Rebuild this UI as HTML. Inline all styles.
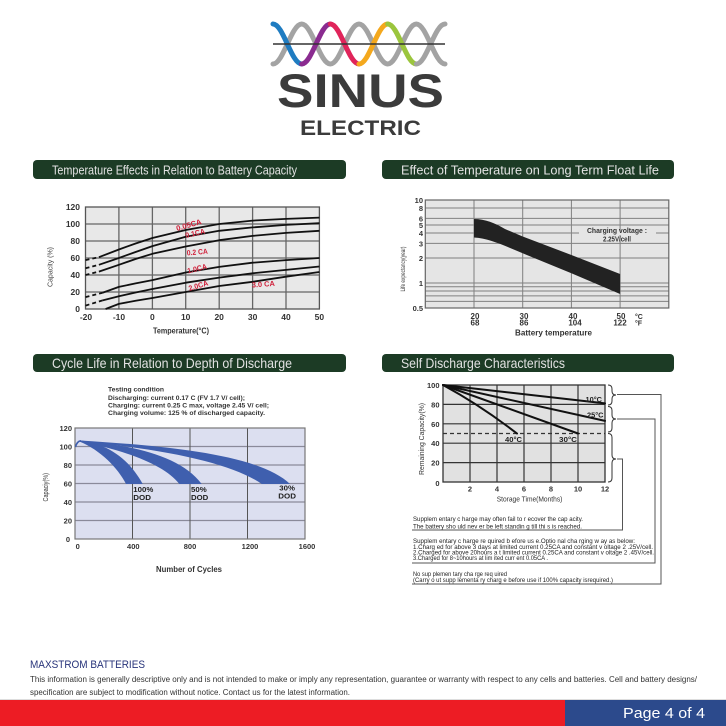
<!DOCTYPE html>
<html><head><meta charset="utf-8">
<style>
html,body{margin:0;padding:0;background:#fff;}
svg{display:block;}
text{font-family:"Liberation Sans",Arial,sans-serif;}
</style></head><body>
<svg width="726" height="726" viewBox="0 0 726 726" xmlns="http://www.w3.org/2000/svg">
<rect width="726" height="726" fill="#fff"/>

<!-- LOGO -->
<g fill="none" stroke-width="5" stroke-linecap="round">
<path d="M273,64 C283.3,64 291.3,24 301.7,24 C312,24 320,64 330.3,64 C340.6,64 348.6,24 359,24 C369.3,24 377.3,64 387.7,64 C398,64 406,24 416.3,24 C426.6,24 434.6,64 445,64" stroke="#a3a3a3"/>
<path d="M273,24 C283.3,24 291.3,64 301.7,64" stroke="#1f7cc1"/>
<path d="M301.7,64 C312,64 320,24 330.3,24" stroke="#8a2b90"/>
<path d="M330.3,24 C340.6,24 348.6,64 359,64" stroke="#e0245a"/>
<path d="M359,64 C369.3,64 377.3,24 387.7,24" stroke="#f4a81d"/>
<path d="M387.7,24 C398,24 406,64 416.3,64" stroke="#9bc53d"/>
<path d="M416.3,64 C426.6,64 434.6,24 445,24" stroke="#a3a3a3"/>
</g>
<line x1="273" y1="44" x2="445" y2="44" stroke="#333" stroke-width="1.5"/>
<text x="277" y="107" font-size="47" font-weight="bold" fill="#3b3b3b" textLength="167" lengthAdjust="spacingAndGlyphs">SINUS</text>
<text x="300" y="135" font-size="21" font-weight="bold" fill="#3b3b3b" textLength="121" lengthAdjust="spacingAndGlyphs">ELECTRIC</text>

<!-- TITLE BARS -->
<rect x="33" y="160" width="313" height="19" rx="4" fill="#1c3b25"/>
<text x="52" y="174.5" font-size="12.5" fill="#e2e2e2" textLength="245" lengthAdjust="spacingAndGlyphs">Temperature Effects in Relation to Battery Capacity</text>
<rect x="382" y="160" width="292" height="19" rx="4" fill="#1c3b25"/>
<text x="401" y="174.5" font-size="13" fill="#e2e2e2" textLength="258" lengthAdjust="spacingAndGlyphs">Effect of Temperature on Long Term Float Life</text>
<rect x="33" y="354" width="313" height="18" rx="4" fill="#1c3b25"/>
<text x="52" y="368" font-size="14" fill="#e2e2e2" textLength="240" lengthAdjust="spacingAndGlyphs">Cycle Life in Relation to Depth of Discharge</text>
<rect x="382" y="354" width="292" height="18" rx="4" fill="#1c3b25"/>
<text x="401" y="368" font-size="14" fill="#e2e2e2" textLength="164" lengthAdjust="spacingAndGlyphs">Self Discharge Characteristics</text>

<!-- CHART 1 -->
<rect x="85.5" y="207" width="233.9" height="102" fill="#e8e8e8"/>
<g stroke="#666" stroke-width="1.3">
<line x1="85.5" y1="224" x2="319.4" y2="224"/>
<line x1="85.5" y1="241" x2="319.4" y2="241"/>
<line x1="85.5" y1="258" x2="319.4" y2="258"/>
<line x1="85.5" y1="275" x2="319.4" y2="275"/>
<line x1="85.5" y1="292" x2="319.4" y2="292"/>
<line x1="118.9" y1="207" x2="118.9" y2="309"/>
<line x1="152.4" y1="207" x2="152.4" y2="309"/>
<line x1="185.7" y1="207" x2="185.7" y2="309"/>
<line x1="219.2" y1="207" x2="219.2" y2="309"/>
<line x1="252.6" y1="207" x2="252.6" y2="309"/>
<line x1="286" y1="207" x2="286" y2="309"/>
</g>
<rect x="85.5" y="207" width="233.9" height="102" fill="none" stroke="#555" stroke-width="1.3"/>
<g fill="none" stroke="#111" stroke-width="1.8" stroke-linejoin="round">
<polyline points="98.9,257.2 118.9,249.5 135.6,243.5 152.4,238 185.7,230 219.2,224 252.6,220.6 286,218.9 319.4,217.6"/>
<polyline points="98.9,264.8 118.9,258 135.6,252 152.4,246.1 185.7,236.8 219.2,230.8 252.6,227.4 286,224.9 319.4,223.2"/>
<polyline points="98.9,271.6 118.9,264.8 135.6,259 152.4,253.8 185.7,246.5 219.2,240.2 252.6,235.9 286,232.9 319.4,230.8"/>
<polyline points="102.2,292.9 118.9,286.9 135.6,283.4 152.4,280.1 185.7,272.5 219.2,266.9 252.6,262.7 286,260.1 319.4,258"/>
<polyline points="102.2,300.5 118.9,296.3 135.6,292.5 152.4,289 185.7,282.7 219.2,277.6 252.6,273.3 286,269.9 319.4,266.5"/>
<polyline points="105.6,309 118.9,303.9 135.6,300.8 152.4,298 185.7,292 219.2,286 252.6,281.8 286,276.7 319.4,272"/>
</g>
<g fill="none" stroke="#111" stroke-width="1.8" stroke-dasharray="4,3">
<line x1="85.5" y1="260.1" x2="98.9" y2="257.2"/>
<line x1="85.5" y1="268.2" x2="98.9" y2="264.8"/>
<line x1="85.5" y1="275" x2="98.9" y2="271.6"/>
<line x1="85.5" y1="297.1" x2="102.2" y2="292.9"/>
<line x1="85.5" y1="305.6" x2="102.2" y2="300.5"/>
</g>
<g font-size="8.5" font-weight="bold" fill="#333" text-anchor="end">
<text x="80" y="210">120</text><text x="80" y="227">100</text><text x="80" y="244">80</text>
<text x="80" y="261">60</text><text x="80" y="278">40</text><text x="80" y="295">20</text><text x="80" y="312">0</text>
</g>
<g font-size="8.5" font-weight="bold" fill="#333" text-anchor="middle">
<text x="86" y="320">-20</text><text x="119" y="320">-10</text><text x="152.4" y="320">0</text>
<text x="185.7" y="320">10</text><text x="219.2" y="320">20</text><text x="252.6" y="320">30</text>
<text x="286" y="320">40</text><text x="319.4" y="320">50</text>
</g>
<text x="153" y="333.5" font-size="8" font-weight="bold" fill="#333" textLength="56" lengthAdjust="spacingAndGlyphs">Temperature(°C)</text>
<text transform="translate(52.5,287) rotate(-90)" font-size="7" fill="#444" textLength="40" lengthAdjust="spacingAndGlyphs">Capacity (%)</text>
<g font-size="7.5" font-weight="bold" fill="#d0203a">
<text transform="translate(177,231) rotate(-16)" textLength="26" lengthAdjust="spacingAndGlyphs">0.05CA</text>
<text transform="translate(186,238) rotate(-13)" textLength="20" lengthAdjust="spacingAndGlyphs">0.1CA</text>
<text transform="translate(187,255.5) rotate(-5)" textLength="21" lengthAdjust="spacingAndGlyphs">0.2 CA</text>
<text transform="translate(188,273.5) rotate(-14)" textLength="20" lengthAdjust="spacingAndGlyphs">1.0CA</text>
<text transform="translate(189.5,291) rotate(-17)" textLength="20" lengthAdjust="spacingAndGlyphs">2.0CA</text>
<text transform="translate(252,287.5) rotate(-4)" textLength="23" lengthAdjust="spacingAndGlyphs">3.0 CA</text>
</g>

<!-- CHART 2 -->
<rect x="425.3" y="200" width="243.5" height="108" fill="#e5e5e5"/>
<g stroke="#808080" stroke-width="1">
<line x1="425.3" y1="208" x2="668.8" y2="208"/>
<line x1="425.3" y1="218.4" x2="668.8" y2="218.4"/>
<line x1="425.3" y1="225" x2="668.8" y2="225"/>
<line x1="425.3" y1="233" x2="668.8" y2="233"/>
<line x1="425.3" y1="243.4" x2="668.8" y2="243.4"/>
<line x1="425.3" y1="258" x2="668.8" y2="258"/>
<line x1="425.3" y1="283" x2="668.8" y2="283"/>
<line x1="425.3" y1="286.8" x2="668.8" y2="286.8"/>
<line x1="425.3" y1="291" x2="668.8" y2="291"/>
<line x1="425.3" y1="295.9" x2="668.8" y2="295.9"/>
<line x1="425.3" y1="301.4" x2="668.8" y2="301.4"/>
<line x1="474" y1="200" x2="474" y2="308"/>
<line x1="522.7" y1="200" x2="522.7" y2="308"/>
<line x1="571.4" y1="200" x2="571.4" y2="308"/>
<line x1="620.1" y1="200" x2="620.1" y2="308"/>
</g>
<rect x="425.3" y="200" width="243.5" height="108" fill="none" stroke="#666" stroke-width="1.2"/>
<path d="M474,219 C485,219 495,223 505,229 L522.7,236.5 L571.4,255 L620.1,274 L620.1,294 L571.4,273.3 L522.7,253.3 C505,246 490,238.5 474,237.5 Z" fill="#222"/>
<rect x="579" y="231" width="77" height="4" fill="#e5e5e5"/>
<text x="587" y="233" font-size="7.5" font-weight="bold" fill="#333" textLength="60" lengthAdjust="spacingAndGlyphs">Charging voltage :</text>
<text x="603" y="241.5" font-size="7.5" font-weight="bold" fill="#333" textLength="28" lengthAdjust="spacingAndGlyphs">2.25V/cell</text>
<g font-size="7.5" font-weight="bold" fill="#333" text-anchor="end">
<text x="423" y="203">10</text><text x="423" y="211">8</text><text x="423" y="221.5">6</text>
<text x="423" y="228">5</text><text x="423" y="236">4</text><text x="423" y="246.5">3</text>
<text x="423" y="261">2</text><text x="423" y="286">1</text><text x="423" y="311">0.5</text>
</g>
<g font-size="8" font-weight="bold" fill="#333" text-anchor="middle">
<text x="475" y="319">20</text><text x="475" y="325.5">68</text>
<text x="524" y="319">30</text><text x="524" y="325.5">86</text>
<text x="573" y="319">40</text><text x="575" y="325.5">104</text>
<text x="621" y="319">50</text><text x="620" y="325.5">122</text>
</g>
<text x="635" y="319" font-size="7" font-weight="bold" fill="#333">°C</text>
<text x="635" y="325.5" font-size="7" font-weight="bold" fill="#333">°F</text>
<text x="515" y="335.5" font-size="8" font-weight="bold" fill="#333" textLength="77" lengthAdjust="spacingAndGlyphs">Battery temperature</text>
<text transform="translate(405,291.5) rotate(-90)" font-size="6" fill="#333" textLength="45" lengthAdjust="spacingAndGlyphs">Life expectancy(year)</text>

<!-- CHART 3 -->
<g font-size="6.8" font-weight="bold" fill="#333">
<text x="108" y="391.7" textLength="56" lengthAdjust="spacingAndGlyphs">Testing  condition</text>
<text x="108" y="400" textLength="137" lengthAdjust="spacingAndGlyphs">Discharging: current  0.17 C  (FV  1.7 V/ cell);</text>
<text x="108" y="407.5" textLength="161" lengthAdjust="spacingAndGlyphs">Charging: current  0.25 C  max,  voltage  2.45 V/ cell;</text>
<text x="108" y="415" textLength="157" lengthAdjust="spacingAndGlyphs">Charging volume: 125  % of  discharged  capacity.</text>
</g>
<rect x="75" y="428" width="230" height="111" fill="#dcdff0"/>
<g stroke="#8a8a9a" stroke-width="1.2">
<line x1="75" y1="446.5" x2="305" y2="446.5"/>
<line x1="75" y1="465" x2="305" y2="465"/>
<line x1="75" y1="483.5" x2="305" y2="483.5"/>
<line x1="75" y1="502" x2="305" y2="502"/>
<line x1="75" y1="520.5" x2="305" y2="520.5"/>
</g>
<g stroke="#555" stroke-width="1">
<line x1="132.5" y1="428" x2="132.5" y2="539"/>
<line x1="190" y1="428" x2="190" y2="539"/>
<line x1="247.5" y1="428" x2="247.5" y2="539"/>
</g>
<rect x="75" y="428" width="230" height="111" fill="none" stroke="#777" stroke-width="1.2"/>
<g fill="#3f5fae">
<path d="M80,440.5 C170,446 260,455 290,484 L261.7,484 C235,465 170,449 80,441.8 Z"/>
<path d="M80,440.5 C130,445 180,455 201.7,484 L179.3,484 C165,465 125,450 80,441.8 Z"/>
<path d="M80,440.5 C100,443 125,452 142.7,484 L126,484 C118,468 100,450 80,441.8 Z"/>
</g>
<path d="M75.5,447 C76.5,443 78,441 81,440.8" fill="none" stroke="#3f5fae" stroke-width="1.6"/>
<g font-size="7.5" font-weight="bold" fill="#222">
<text x="133.3" y="492" textLength="20" lengthAdjust="spacingAndGlyphs">100%</text>
<text x="133.3" y="500" textLength="17.7" lengthAdjust="spacingAndGlyphs">DOD</text>
<text x="191" y="492" textLength="15.7" lengthAdjust="spacingAndGlyphs">50%</text>
<text x="191" y="500" textLength="17.3" lengthAdjust="spacingAndGlyphs">DOD</text>
<text x="279.3" y="490.5" textLength="15.7" lengthAdjust="spacingAndGlyphs">30%</text>
<text x="278.3" y="498.5" textLength="17.7" lengthAdjust="spacingAndGlyphs">DOD</text>
</g>
<g font-size="7.5" font-weight="bold" fill="#333" text-anchor="end">
<text x="72" y="431">120</text><text x="72" y="449.5">100</text><text x="72" y="468">80</text>
<text x="72" y="486.5">60</text><text x="72" y="505">40</text><text x="72" y="523.5">20</text><text x="70" y="542">0</text>
</g>
<g font-size="7.5" font-weight="bold" fill="#333" text-anchor="middle">
<text x="77.7" y="549">0</text><text x="133.3" y="549">400</text><text x="190" y="549">800</text>
<text x="250" y="549">1200</text><text x="307" y="549">1600</text>
</g>
<text x="156" y="572" font-size="8" font-weight="bold" fill="#333" textLength="66" lengthAdjust="spacingAndGlyphs">Number of Cycles</text>
<text transform="translate(48,501.5) rotate(-90)" font-size="7" fill="#333" textLength="28.5" lengthAdjust="spacingAndGlyphs">Capaciy(%)</text>

<!-- CHART 4 -->
<rect x="443" y="385" width="162" height="97" fill="#e1e1e1"/>
<g stroke="#333" stroke-width="1.2">
<line x1="443" y1="404.4" x2="605" y2="404.4"/>
<line x1="443" y1="423.8" x2="605" y2="423.8"/>
<line x1="443" y1="462.6" x2="605" y2="462.6"/>
<line x1="470" y1="385" x2="470" y2="482"/>
<line x1="497" y1="385" x2="497" y2="482"/>
<line x1="524" y1="385" x2="524" y2="482"/>
<line x1="551" y1="385" x2="551" y2="482"/>
<line x1="578" y1="385" x2="578" y2="482"/>
</g>
<line x1="443" y1="443.2" x2="605" y2="443.2" stroke="#333" stroke-width="1.2"/>
<line x1="443" y1="433.5" x2="605" y2="433.5" stroke="#333" stroke-width="1.2" stroke-dasharray="4,3"/>
<rect x="443" y="385" width="162" height="97" fill="none" stroke="#333" stroke-width="1.3"/>
<g stroke="#111" stroke-width="2" fill="none" stroke-linecap="round">
<line x1="443" y1="385" x2="605" y2="403.4"/>
<line x1="443" y1="385" x2="605" y2="420.9"/>
<line x1="443" y1="385" x2="578" y2="433.5"/>
<path d="M443,385 Q480,405 517,433.5"/>
</g>
<g font-size="7.5" font-weight="bold" fill="#222">
<text x="585.5" y="402" textLength="16.5" lengthAdjust="spacingAndGlyphs">10°C</text>
<text x="587" y="417.5" textLength="16.5" lengthAdjust="spacingAndGlyphs">25°C</text>
<text x="505" y="442" textLength="17" lengthAdjust="spacingAndGlyphs">40°C</text>
<text x="559" y="442" textLength="18" lengthAdjust="spacingAndGlyphs">30°C</text>
</g>
<g font-size="7.5" font-weight="bold" fill="#333" text-anchor="end">
<text x="439.5" y="388">100</text><text x="439.5" y="407.4">80</text><text x="439.5" y="426.8">60</text>
<text x="439.5" y="446.2">40</text><text x="439.5" y="465.6">20</text><text x="439.5" y="486">0</text>
</g>
<g font-size="7.5" font-weight="bold" fill="#333" text-anchor="middle">
<text x="470" y="491.5">2</text><text x="497" y="491.5">4</text><text x="524" y="491.5">6</text>
<text x="551" y="491.5">8</text><text x="578" y="491.5">10</text><text x="605" y="491.5">12</text>
</g>
<text x="496.7" y="501.5" font-size="7.5" fill="#333" textLength="65.7" lengthAdjust="spacingAndGlyphs">Storage Time(Months)</text>
<text transform="translate(424,475) rotate(-90)" font-size="7" fill="#333" textLength="72" lengthAdjust="spacingAndGlyphs">Remaining Capacity(%)</text>
<g fill="none" stroke="#333" stroke-width="1">
<path d="M608,385 Q612,385 612,389 L612,391 Q612,395 616,395 Q612,395 612,399 L612,401 Q612,405 608,405"/>
<path d="M608,406.5 Q612,406.5 612,410.5 L612,415 Q612,419 616,419 Q612,419 612,423 L612,428 Q612,432 608,432"/>
<path d="M608,433.5 Q612,433.5 612,437.5 L612,455 Q612,459 616,459 Q612,459 612,463 L612,478 Q612,482 608,482"/>
</g>
<g fill="none" stroke="#555" stroke-width="1">
<path d="M617,394.5 H661 V584 H412"/>
<path d="M617,419 H655 V563 H412"/>
<path d="M617,459 H622.5 V530 H412"/>
</g>
<g font-size="6" fill="#222">
<text x="413" y="521" textLength="170" lengthAdjust="spacingAndGlyphs">Supplem entary c harge may often  fail to r ecover  the cap acity.</text>
<text x="413" y="528.3" textLength="169" lengthAdjust="spacingAndGlyphs">The battery sho uld nev er be  left  standin g till thi s is reached.</text>
<text x="413" y="543" textLength="222" lengthAdjust="spacingAndGlyphs">Supplem entary c harge re quired b efore us e.Optio nal cha rging w ay as below:</text>
<text x="413" y="549" textLength="240" lengthAdjust="spacingAndGlyphs">1.Charg ed for above 3 days at  limited  current  0.25CA and constant v oltage 2 .25V/cell.</text>
<text x="413" y="554.5" textLength="241" lengthAdjust="spacingAndGlyphs">2.Charged for above 20hours a t limited  current  0.25CA and constant v oltage 2 .45V/cell.</text>
<text x="413" y="560" textLength="135" lengthAdjust="spacingAndGlyphs">3.Charged for 8~10hours at lim ited curr ent 0.05CA .</text>
<text x="413" y="576" textLength="94" lengthAdjust="spacingAndGlyphs">No sup plemen tary cha rge req uired</text>
<text x="413" y="582" textLength="200" lengthAdjust="spacingAndGlyphs">(Carry o ut supp lementa ry charg e before  use if 100% capacity isrequired.)</text>
</g>

<!-- FOOTER -->
<text x="30" y="668" font-size="11" fill="#27337a" textLength="115" lengthAdjust="spacingAndGlyphs">MAXSTROM BATTERIES</text>
<text x="30" y="682" font-size="8" fill="#333" textLength="667" lengthAdjust="spacingAndGlyphs">This information is generally descriptive only and is not intended to make or imply any representation, guarantee or warranty with respect to any cells and batteries. Cell and battery  designs/</text>
<text x="30" y="695" font-size="8" fill="#333" textLength="320" lengthAdjust="spacingAndGlyphs">specification are subject to modification without notice. Contact us for the latest information.</text>
<rect x="0" y="699" width="726" height="1" fill="#ddd"/>
<rect x="0" y="700" width="565" height="26" fill="#ed1c24"/>
<rect x="565" y="700" width="161" height="26" fill="#2c4a8c"/>
<text x="623" y="718" font-size="15" fill="#fff" textLength="82" lengthAdjust="spacingAndGlyphs">Page 4 of 4</text>
</svg>
</body></html>
